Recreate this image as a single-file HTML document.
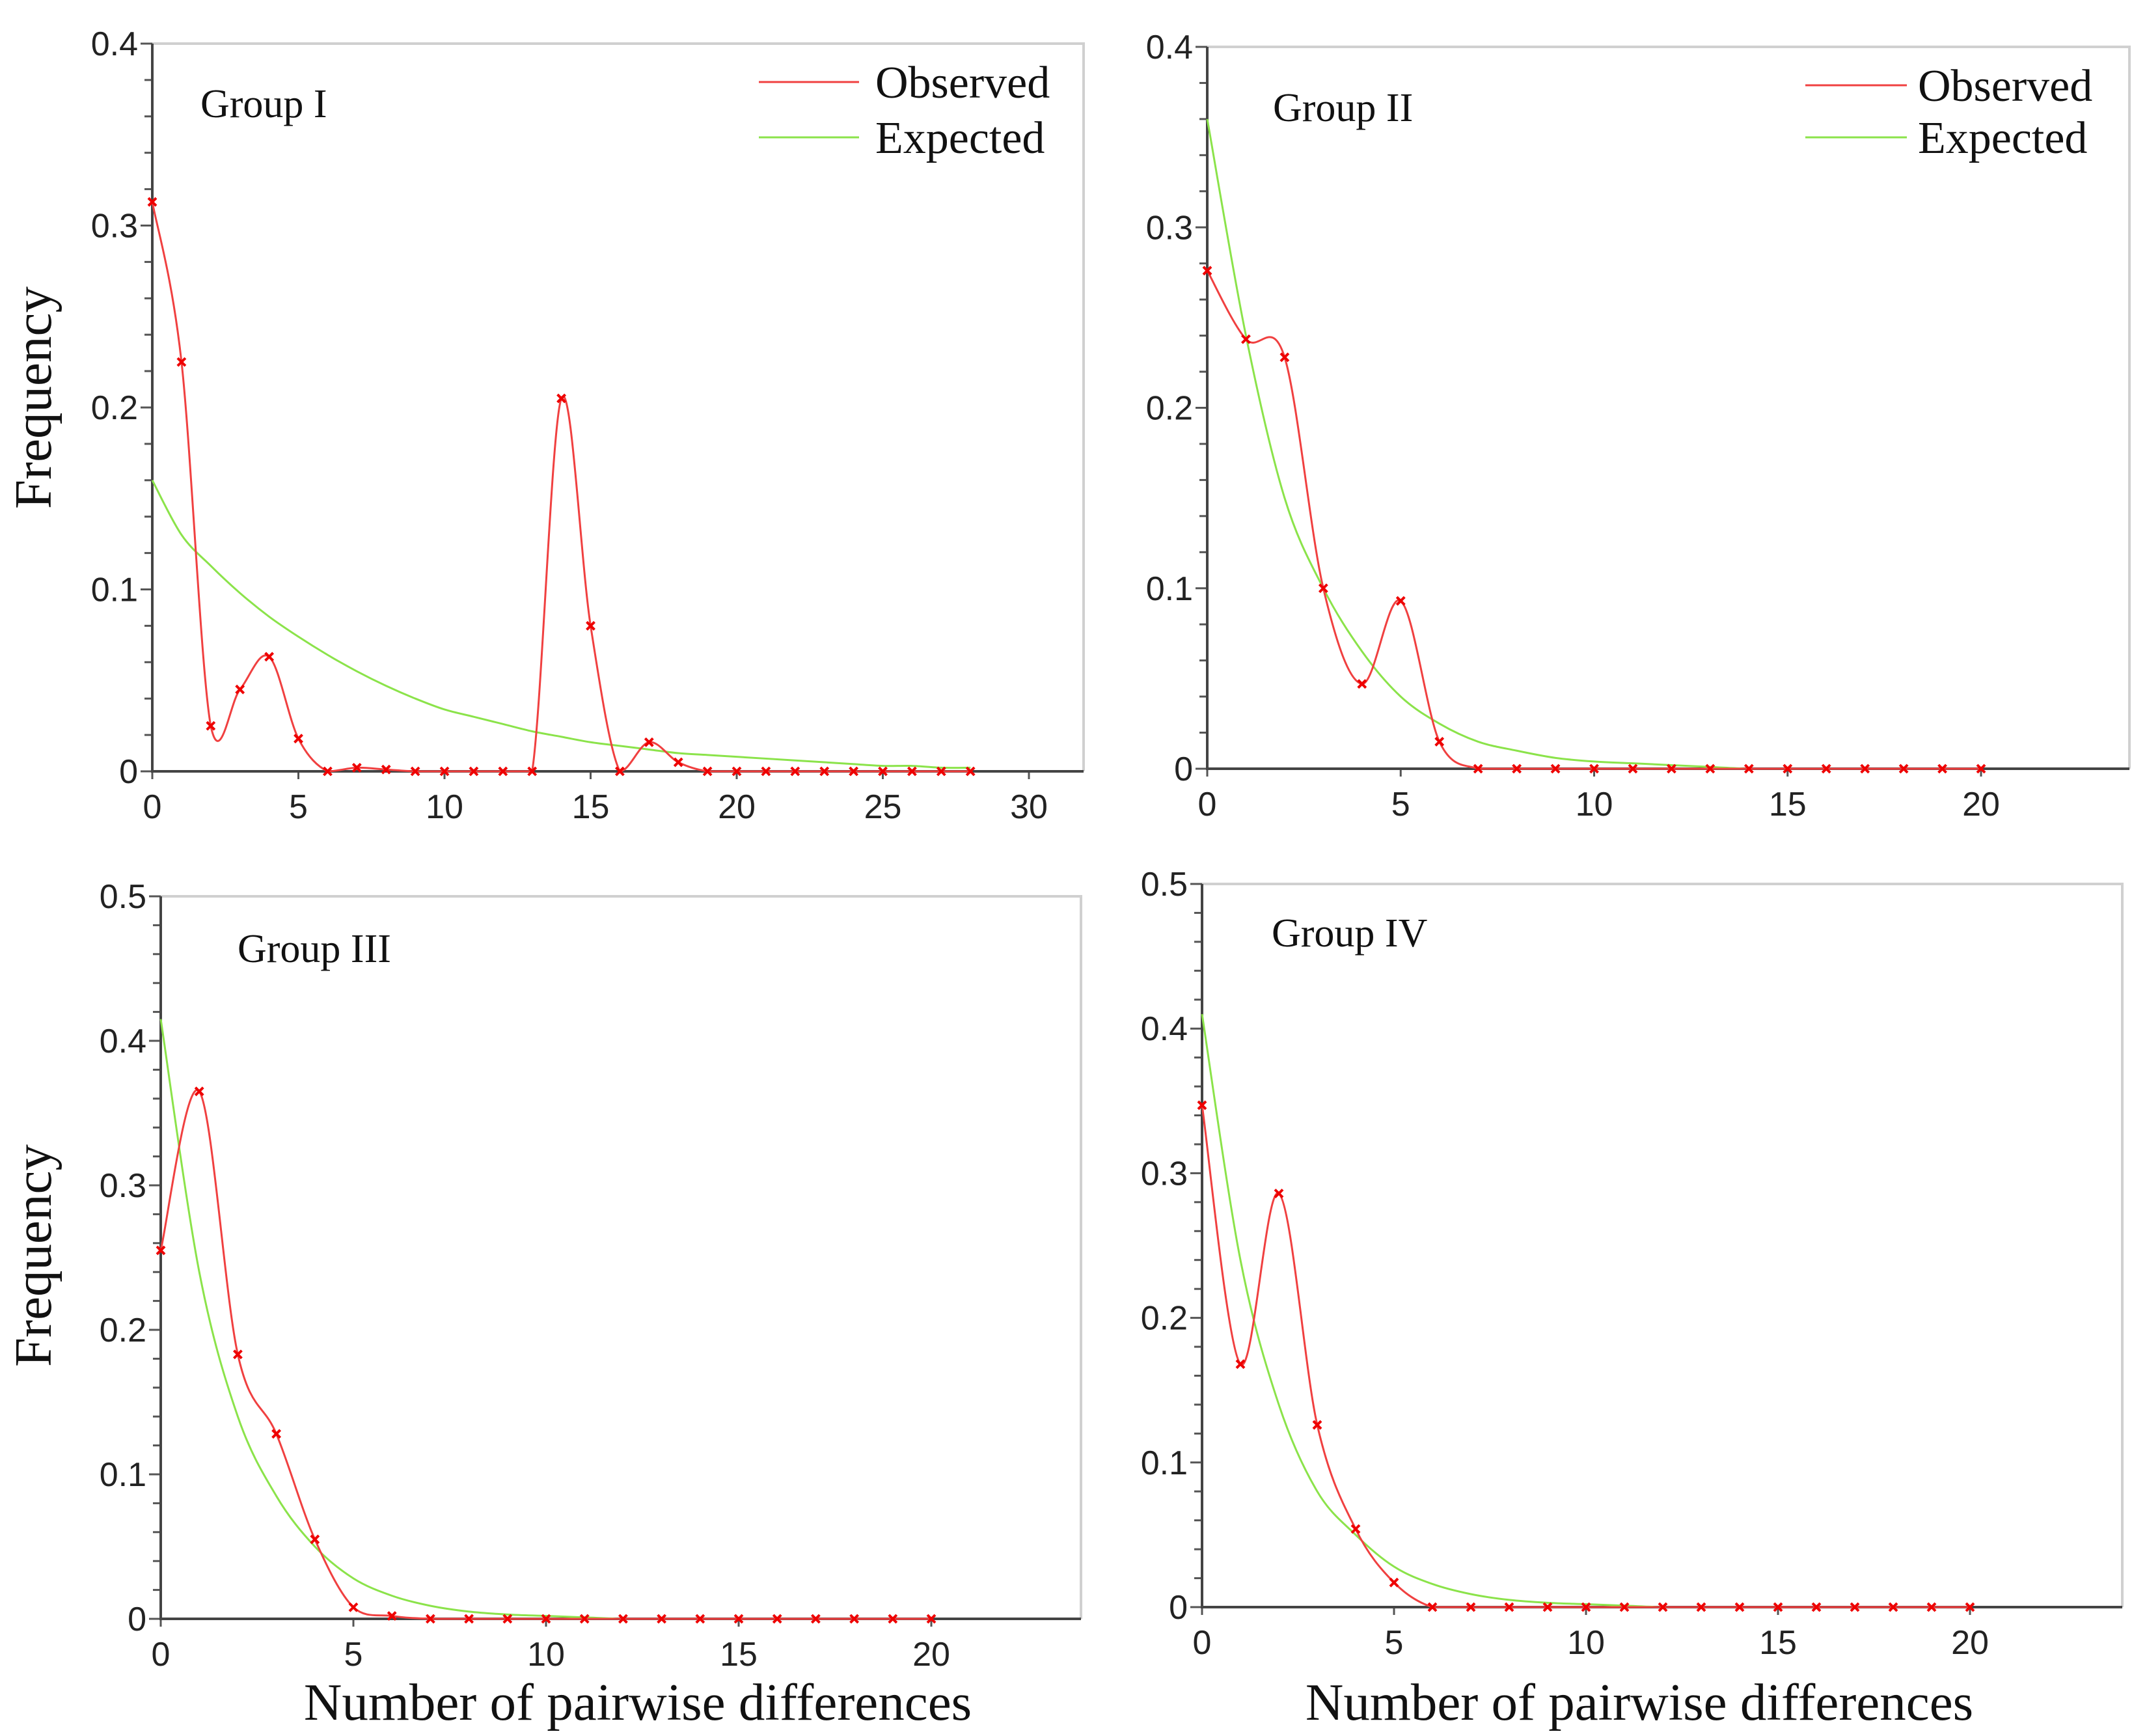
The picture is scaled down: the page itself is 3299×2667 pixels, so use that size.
<!DOCTYPE html>
<html><head><meta charset="utf-8"><style>
html,body{margin:0;padding:0;background:#fff;}
svg{display:block;}
text{font-family:"Liberation Serif",serif;fill:#111;}
.tk{font-family:"Liberation Sans",sans-serif;font-size:52px;fill:#222;}
</style></head><body>
<svg id="c" width="3299" height="2667" viewBox="0 0 3299 2667" xmlns="http://www.w3.org/2000/svg"></svg>
<script>
const obs1=[.313,.225,.025,.045,.063,.018,0,.002,.001,0,0,0,0,0,.205,.08,0,.016,.005,0,0,0,0,0,0,0,0,0,0];
const exp1=[.16,.13,.113,.098,.085,.074,.064,.055,.047,.04,.034,.03,.026,.022,.019,.016,.014,.012,.01,.009,.008,.007,.006,.005,.004,.003,.003,.002,.002];
const obs2=[.276,.238,.228,.1,.047,.093,.015,0,0,0,0,0,0,0,0,0,0,0,0,0,0];
const exp2=[.36,.24,.15,.1,.065,.04,.025,.015,.01,.006,.004,.003,.002,.001,0,0,0,0,0,0,0];
const obs3=[.255,.365,.183,.128,.055,.008,.002,0,0,0,0,0,0,0,0,0,0,0,0,0,0];
const exp3=[.415,.24,.14,.085,.05,.028,.016,.009,.005,.003,.002,.001,0,0,0,0,0,0,0,0,0];
const obs4=[.347,.168,.286,.126,.054,.017,0,0,0,0,0,0,0,0,0,0,0,0,0,0,0];
const exp4=[.41,.24,.14,.08,.05,.028,.016,.009,.005,.003,.002,.001,0,0,0,0,0,0,0,0,0];
const xt1=[0,5,10,15,20,25,30], xt2=[0,5,10,15,20];
const yt1=[0,0.1,0.2,0.3,0.4], yt2=[0,0.1,0.2,0.3,0.4,0.5];
const titles=["Group I","Group II","Group III","Group IV"];

const NS="http://www.w3.org/2000/svg", svg=document.getElementById('c');
function mk(tag,attrs,parent,txt){const e=document.createElementNS(NS,tag);for(const k in attrs)e.setAttribute(k,attrs[k]);if(txt!==undefined)e.textContent=txt;(parent||svg).appendChild(e);return e;}

const panels=[
 {x0:234,xMax:30,xPx:1581,right:1665,y0:1185,yMax:0.4,yPx:67,obs:obs1,exp:exp1,xt:xt1,yt:yt1,tx:308,ty:180,leg:[1166,1320,1345,126,211]},
 {x0:1855,xMax:20,xPx:3044,right:3272,y0:1181,yMax:0.4,yPx:72,obs:obs2,exp:exp2,xt:xt2,yt:yt1,tx:1956,ty:186,leg:[2774,2930,2947,131,211]},
 {x0:247,xMax:20,xPx:1431,right:1661,y0:2487,yMax:0.5,yPx:1377,obs:obs3,exp:exp3,xt:xt2,yt:yt2,tx:365,ty:1478,leg:null},
 {x0:1847,xMax:20,xPx:3027,right:3261,y0:2469,yMax:0.5,yPx:1358,obs:obs4,exp:exp4,xt:xt2,yt:yt2,tx:1954,ty:1454,leg:null}
];
function spline(pts,yb){const cl=y=>Math.min(y,yb);let d=`M${pts[0][0]},${pts[0][1]}`;for(let i=0;i<pts.length-1;i++){const p0=pts[Math.max(i-1,0)],p1=pts[i],p2=pts[i+1],p3=pts[Math.min(i+2,pts.length-1)];const c1=[p1[0]+(p2[0]-p0[0])/6,cl(p1[1]+(p2[1]-p0[1])/6)],c2=[p2[0]-(p3[0]-p1[0])/6,cl(p2[1]-(p3[1]-p1[1])/6)];d+=`C${c1[0]},${c1[1]} ${c2[0]},${c2[1]} ${p2[0]},${p2[1]}`;}return d;}
panels.forEach((p,pi)=>{
 const g=mk('g',{});
 
 
 const sx=v=>p.x0+(p.xPx-p.x0)*v/p.xMax;
 const sy=v=>p.y0-(p.y0-p.yPx)*v/p.yMax;
 const fr=mk('path',{d:`M${p.x0},${p.yPx}H${p.right}V${p.y0}`,fill:'none',stroke:'#d0d0d0','stroke-width':4},g);
 
 
 for(let v=0;v<=p.yMax+1e-9;v+=0.02){const t=mk('line',{x1:p.x0-(Math.abs(v*10-Math.round(v*10))<1e-6?18:12),x2:p.x0,y1:sy(v),y2:sy(v),stroke:'#555','stroke-width':3},g);}
 p.yt.forEach(v=>{const t=mk('text',{x:p.x0-22,y:sy(v)+18,'text-anchor':'end',class:'tk'},g,v===0?'0':v.toFixed(1));});
 p.xt.forEach(v=>{mk('line',{x1:sx(v),x2:sx(v),y1:p.y0,y2:p.y0+12,stroke:'#555','stroke-width':3},g);const t=mk('text',{x:sx(v),y:p.y0+72,'text-anchor':'middle',class:'tk'},g,String(v));});
 const ax=mk('path',{d:`M${p.x0},${p.yPx}V${p.y0}H${p.right}`,fill:'none',stroke:'#444','stroke-width':4},g);
 
 
 const ep=mk('path',{d:spline(p.exp.map((v,i)=>[sx(i),sy(v)]),p.y0),fill:'none',stroke:'#8be34a','stroke-width':3},g);
 
 
 const op=mk('path',{d:spline(p.obs.map((v,i)=>[sx(i),sy(v)]),p.y0),fill:'none',stroke:'#f04040','stroke-width':3},g);
 
 
 p.obs.forEach((v,i)=>{const x=sx(i),y=sy(v),m=mk('path',{d:`M${x-6},${y-6}L${x+6},${y+6}M${x-6},${y+6}L${x+6},${y-6}`,stroke:'#e00','stroke-width':4},g);});
 const tt=mk('text',{x:p.tx,y:p.ty,'font-size':62},g,titles[pi]);
 
 
 if(p.leg){const[a,b,tx,y1,y2]=p.leg;
  const l1=mk('line',{x1:a,x2:b,y1:y1,y2:y1,stroke:'#f04040','stroke-width':3},g);
  const t1=mk('text',{x:tx,y:y1+24,'font-size':70},g,'Observed');
  const l2=mk('line',{x1:a,x2:b,y1:y2,y2:y2,stroke:'#8be34a','stroke-width':3},g);
  const t2=mk('text',{x:tx,y:y2+24,'font-size':70},g,'Expected');}
});
[611,1929].forEach(cy=>{const t=mk('text',{x:0,y:0,'font-size':81,'text-anchor':'middle',transform:`translate(78,${cy}) rotate(-90)`},svg,'Frequency');});
[980,2519].forEach(cx=>{const t=mk('text',{x:cx,y:2642,'font-size':81,'text-anchor':'middle'},svg,'Number of pairwise differences');});
</script>
</body></html>
